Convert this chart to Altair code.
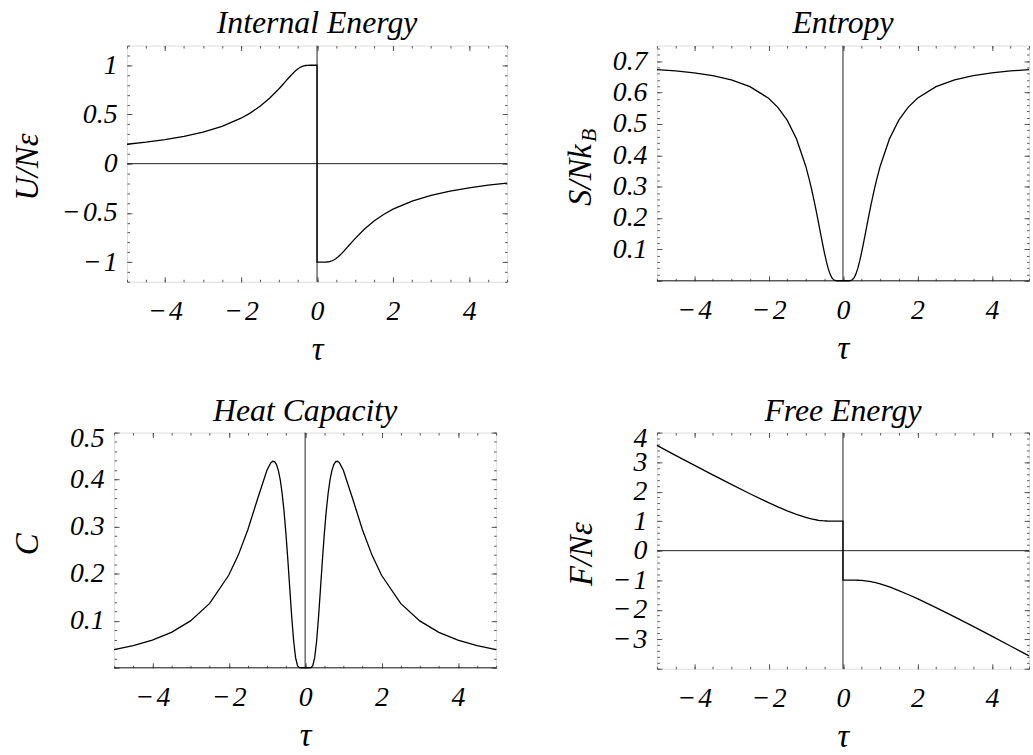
import altair as alt
import pandas as pd

# ---------------- data ----------------
TAU = [-5.0, -4.5, -4.0, -3.5, -3.0, -2.5, -2.0, -1.75, -1.5, -1.25, -1.0,
       -0.9, -0.85, -0.8, -0.75, -0.7, -0.65, -0.6, -0.55, -0.5, -0.45, -0.4,
       -0.35, -0.3, -0.25, -0.2, -0.15, -0.1, 0.0,
       0.0, 0.1, 0.15, 0.2, 0.25, 0.3, 0.35, 0.4, 0.45, 0.5, 0.55, 0.6, 0.65,
       0.7, 0.75, 0.8, 0.85, 0.9, 1.0, 1.25, 1.5, 1.75, 2.0, 2.5, 3.0, 3.5,
       4.0, 4.5, 5.0]

U_VAL = [0.1974, 0.2186, 0.2449, 0.2782, 0.3215, 0.3799, 0.4621, 0.5164, 0.5828, 0.6640, 0.7616,
         0.8045, 0.8263, 0.8483, 0.8701, 0.8914, 0.9119, 0.9311, 0.9487, 0.9640, 0.9768, 0.9866,
         0.9934, 0.9975, 0.9993, 0.9999, 1.0, 1.0, 1.0,
         -1.0, -1.0, -1.0, -0.9999, -0.9993, -0.9975, -0.9934, -0.9866, -0.9768, -0.9640, -0.9487,
         -0.9311, -0.9119, -0.8914, -0.8701, -0.8483, -0.8263, -0.8045, -0.7616, -0.6640, -0.5828,
         -0.5164, -0.4621, -0.3799, -0.3215, -0.2782, -0.2449, -0.2186, -0.1974]

S_VAL = [0.6735, 0.6691, 0.6628, 0.6539, 0.6405, 0.6191, 0.5822, 0.5531, 0.5121, 0.4527, 0.3653,
         0.3202, 0.2951, 0.2685, 0.2404, 0.2110, 0.1806, 0.1499, 0.1194, 0.0901, 0.0633, 0.0402,
         0.0221, 0.0097, 0.0030, 0.0005, 0.0, 0.0, 0.0,
         0.0, 0.0, 0.0, 0.0005, 0.0030, 0.0097, 0.0221, 0.0402, 0.0633, 0.0901, 0.1194, 0.1499,
         0.1806, 0.2110, 0.2404, 0.2685, 0.2951, 0.3202, 0.3653, 0.4527, 0.5121, 0.5531, 0.5822,
         0.6191, 0.6405, 0.6539, 0.6628, 0.6691, 0.6735]

C_VAL = [0.0384, 0.0470, 0.0588, 0.0753, 0.0996, 0.1369, 0.1966, 0.2395, 0.2935, 0.3578, 0.4200,
         0.4356, 0.4390, 0.4382, 0.4320, 0.4193, 0.3988, 0.3695, 0.3308, 0.2826, 0.2266, 0.1662,
         0.1070, 0.0564, 0.0215, 0.0045, 0.0003, 0.0, 0.0,
         0.0, 0.0, 0.0003, 0.0045, 0.0215, 0.0564, 0.1070, 0.1662, 0.2266, 0.2826, 0.3308, 0.3695,
         0.3988, 0.4193, 0.4320, 0.4382, 0.4390, 0.4356, 0.4200, 0.3578, 0.2935, 0.2395, 0.1966,
         0.1369, 0.0996, 0.0753, 0.0588, 0.0470, 0.0384]

F_VAL = [3.5651, 3.2294, 2.8963, 2.5670, 2.2431, 1.9278, 1.6265, 1.4844, 1.3509, 1.2299, 1.1269,
         1.0926, 1.0772, 1.0631, 1.0504, 1.0391, 1.0293, 1.0210, 1.0143, 1.0091, 1.0053, 1.0027,
         1.0012, 1.0004, 1.0001, 1.0, 1.0, 1.0, 1.0,
         -1.0, -1.0, -1.0, -1.0, -1.0001, -1.0004, -1.0012, -1.0027, -1.0053, -1.0091, -1.0143,
         -1.0210, -1.0293, -1.0391, -1.0504, -1.0631, -1.0772, -1.0926, -1.1269, -1.2299, -1.3509,
         -1.4844, -1.6265, -1.9278, -2.2431, -2.5670, -2.8963, -3.2294, -3.5651]

ZERO = [0]

X_DOMAIN = [-5, 5]
X_LABELS = [-4, -2, 0, 2, 4]
X_MINOR = [v / 2 for v in range(-10, 11)]

U_DOMAIN = [-1.2, 1.2]
U_LABELS = [-1, -0.5, 0, 0.5, 1]
U_MINOR = [round(v * 0.1, 2) for v in range(-12, 13)]

S_DOMAIN = [0, 0.75]
S_LABELS = [0.1, 0.2, 0.3, 0.4, 0.5, 0.6, 0.7]
S_MAJOR = [0.0] + S_LABELS
S_MINOR = [round(v * 0.02, 2) for v in range(0, 38)]

C_DOMAIN = [0, 0.5]
C_LABELS = [0.1, 0.2, 0.3, 0.4, 0.5]
C_MAJOR = [0.0] + C_LABELS
C_MINOR = [round(v * 0.02, 2) for v in range(0, 26)]

F_DOMAIN = [-4, 4]
F_LABELS = [-3, -2, -1, 0, 1, 2, 3, 4]
F_MAJOR = [-4] + F_LABELS
F_MINOR = [round(v * 0.2, 1) for v in range(-20, 21)]

# ---------------- styling ----------------
FONT = "Liberation Serif"
FRAME = "#555555"
AXIS_LINE = "#222222"
LBL = "datum.value < 0 ? '\u2212\u200a' + (-datum.value) : '' + datum.value"


def x_label_axis():
    return alt.Axis(orient="bottom", values=X_LABELS, labelExpr=LBL, labelFont=FONT,
                    labelFontStyle="italic", labelFontSize=28, labelColor="black",
                    labelBaseline="alphabetic", labelPadding=38, labelFlush=False,
                    labelOverlap=False, minExtent=0,
                    ticks=False, tickSize=0, domain=False, grid=False,
                    title="\u03c4", titleFont=FONT, titleFontStyle="italic",
                    titleFontWeight="normal", titleFontSize=33, titleColor="black",
                    titleBaseline="alphabetic", titleY=78)


def y_label_axis(vals, title, tx, ty, flush):
    kw = dict(orient="left", values=vals, labelExpr=LBL, labelFont=FONT,
              labelFontStyle="italic", labelFontSize=28, labelColor="black",
              labelPadding=10, labelOverlap=False, minExtent=0,
              ticks=False, tickSize=0, domain=False, grid=False,
              title=title, titleFont=FONT, titleFontStyle="italic",
              titleFontWeight="normal", titleFontSize=33, titleColor="black",
              titleAngle=270, titleBaseline="alphabetic", titleAlign="center",
              titleX=tx, titleY=ty)
    if flush:
        kw.update(labelFlush=True, labelFlushOffset=8)
    else:
        kw.update(labelFlush=False)
    return alt.Axis(**kw)


def tick_axis(orient, vals, size):
    return alt.Axis(orient=orient, values=vals, labels=False, ticks=True, tickSize=size,
                    tickColor=FRAME, tickWidth=1, offset=-size, domain=False, grid=False,
                    minExtent=0, title=None)


def make_panel(yvals, title, ydom, ylabels, ymajor, yminor, ytitle, tx, ty, w, h,
               flush=False, sub=None, toff=5):
    df = pd.DataFrame({"idx": list(range(len(TAU))), "tau": TAU, "val": yvals})
    zdf = pd.DataFrame({"z": ZERO})
    xs = alt.Scale(domain=X_DOMAIN, nice=False, zero=False)
    ys = alt.Scale(domain=ydom, nice=False, zero=False)
    base = alt.Chart(df)

    vline = alt.Chart(zdf).mark_rule(color=AXIS_LINE, strokeWidth=1).encode(
        x=alt.X("z:Q", scale=xs, axis=None))
    hline = alt.Chart(zdf).mark_rule(color=AXIS_LINE, strokeWidth=1).encode(
        y=alt.Y("z:Q", scale=ys, axis=None))

    curve = base.mark_line(color="black", strokeWidth=1.3).encode(
        x=alt.X("tau:Q", scale=xs, axis=x_label_axis()),
        y=alt.Y("val:Q", scale=ys, axis=y_label_axis(ylabels, ytitle, tx, ty, flush)),
        order=alt.Order("idx:Q"))

    layers = [vline, hline, curve]
    for ox, oy, xv, yv, size in [("bottom", "left", X_LABELS, ymajor, 5),
                                 ("bottom", "left", X_MINOR, yminor, 2.5),
                                 ("top", "right", X_LABELS, ymajor, 5),
                                 ("top", "right", X_MINOR, yminor, 2.5)]:
        layers.append(base.mark_line(opacity=0).encode(
            x=alt.X("tau:Q", scale=xs, axis=tick_axis(ox, xv, size)),
            y=alt.Y("val:Q", scale=ys, axis=tick_axis(oy, yv, size))))
    if sub is not None:
        stext, sx, sy = sub
        layers.append(base.mark_line(opacity=0).encode(
            x=alt.X("tau:Q", scale=xs, axis=None),
            y=alt.Y("val:Q", scale=ys, axis=alt.Axis(
                orient="left", labels=False, ticks=False, domain=False, grid=False,
                minExtent=0,
                title=stext, titleFont=FONT, titleFontStyle="italic",
                titleFontWeight="normal", titleFontSize=22, titleColor="black",
                titleAngle=270, titleBaseline="alphabetic", titleAlign="center",
                titleX=sx, titleY=sy))))

    return alt.layer(*layers).resolve_axis(x="independent", y="independent").properties(
        width=w, height=h,
        title=alt.TitleParams(title, font=FONT, fontSize=32, fontStyle="italic",
                              fontWeight="normal", color="black", anchor="middle",
                              frame="group", baseline="top", offset=toff))


def spacer():
    # invisible 1x1 cell that anchors each row, so the left panels keep their own offsets
    return alt.Chart(pd.DataFrame({"z": ZERO})).mark_point(opacity=0).encode(
        x=alt.value(0), y=alt.value(0)
    ).properties(width=1, height=1, view=alt.ViewBackground(strokeOpacity=0))


tl = make_panel(U_VAL, "Internal Energy", U_DOMAIN, U_LABELS, U_LABELS, U_MINOR,
                "U/N\u03b5", -90, 122, 383, 238)
tr = make_panel(S_VAL, "Entropy", S_DOMAIN, S_LABELS, S_MAJOR, S_MINOR,
                "S/Nk", -67, 130, 375, 237, sub=("B", -62, 90))
bl = make_panel(C_VAL, "Heat Capacity", C_DOMAIN, C_LABELS, C_MAJOR, C_MINOR,
                "C", -77, 112, 385, 237, flush=True, toff=-3)
br = make_panel(F_VAL, "Free Energy", F_DOMAIN, F_LABELS, F_MAJOR, F_MINOR,
                "F/N\u03b5", -66, 122, 375, 238, flush=True, toff=-3)

row1 = alt.hconcat(alt.hconcat(spacer(), tl, spacing=0), tr, spacing=53)
row2 = alt.hconcat(alt.hconcat(spacer(), bl, spacing=0), br, spacing=65)

chart = alt.vconcat(row1, row2, spacing=27).properties(
    padding={"left": 5, "top": 4, "right": 0, "bottom": 0}
).configure_view(stroke=FRAME, strokeWidth=1).configure(background="white")

chart.save("out.html", embed_options={"renderer": "svg", "actions": False})
